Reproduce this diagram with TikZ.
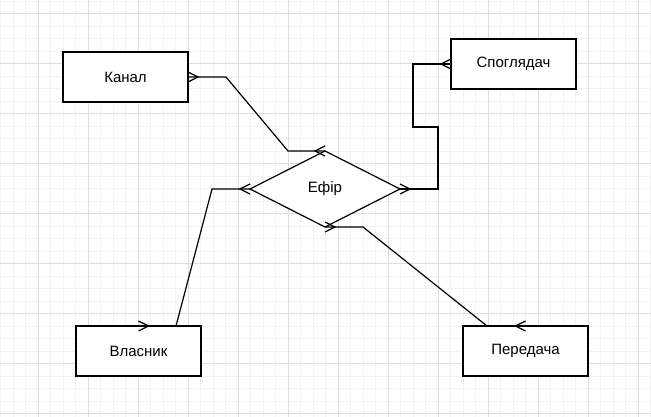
\documentclass[tikz,border=0pt]{standalone}
\usepackage{fontspec}
\setmainfont{Liberation Sans}
\usetikzlibrary{shapes.geometric}
\definecolor{gminor}{HTML}{F2F2F2}
\definecolor{gmajor}{HTML}{DEDEDE}
\begin{document}
\begin{tikzpicture}[x=0.75pt,y=-0.75pt,
  minorline/.style={gminor, line width=0.75pt},
  majorline/.style={gmajor, line width=0.75pt},
  ent/.style={draw=black, fill=white, line width=0.9pt, minimum width=93.75pt, minimum height=37.5pt, inner sep=0pt, outer sep=0pt, font=\fontsize{11.25}{13}\selectfont},
  rel/.style={draw=black, fill=white, shape=diamond, line width=0.9pt, minimum width=112.5pt, minimum height=57pt, inner sep=0pt, outer sep=0pt, font=\fontsize{11.25}{13}\selectfont},
  conn/.style={draw=black, line width=0.9pt},
  cfR/.pic={\draw[conn] (0,-5) -- (10,0) -- (0,5);},
  cfL/.pic={\draw[conn] (0,-5) -- (-10,0) -- (0,5);}
]
\useasboundingbox (0,0) rectangle (651,417);
\fill[white] (0,0) rectangle (651,417);
\begin{scope}
\clip (0,0) rectangle (651,417);
\foreach \i in {0,...,52} {
  \draw[minorline] (0.5+12.5*\i,0) -- (0.5+12.5*\i,417);
}
\foreach \i in {0,...,33} {
  \draw[minorline] (0,1.5+12.5*\i) -- (651,1.5+12.5*\i);
}
\foreach \i in {0,...,13} {
  \draw[majorline] (38+50*\i,0) -- (38+50*\i,417);
}
\foreach \i in {0,...,8} {
  \draw[majorline] (0,14+50*\i) -- (651,14+50*\i);
}
\end{scope}

\node[ent] (kanal) at (125.5,77) {Канал};
\node[ent] (spog) at (513.5,64) {Споглядач};
\node[ent] (vlas) at (138.5,351) {Власник};
\node[ent] (pered) at (525.5,351) {Передача};
\node[rel] (efir) at (325,189) {Ефір};

\coordinate (k1) at (226,77);
\coordinate (k2) at (288,151);
\coordinate (v1) at (176,326);
\coordinate (v2) at (212,189);
\coordinate (s1) at (413,64);
\coordinate (s2) at (413,127);
\coordinate (s3) at (438,127);
\coordinate (s4) at (438,189);
\coordinate (p1) at (363,227);
\coordinate (p2) at (487,326);

\draw[conn] (kanal.east) -- (k1) -- (k2) -- (efir.north);
\draw[conn] (vlas.north) -- (v1) -- (v2) -- (efir.west);
\draw[conn] (spog.west) -- (s1) -- (s2) -- (s3) -- (s4) -- (efir.east);
\draw[conn] (efir.south) -- (p1) -- (p2) -- (pered.north);

\pic at (kanal.east) {cfR};
\pic at (efir.north) {cfL};
\pic at (vlas.north) {cfR};
\pic at (efir.west) {cfL};
\pic at (spog.west) {cfL};
\pic at (efir.east) {cfR};
\pic at (efir.south) {cfR};
\pic at (pered.north) {cfL};
\end{tikzpicture}
\end{document}
